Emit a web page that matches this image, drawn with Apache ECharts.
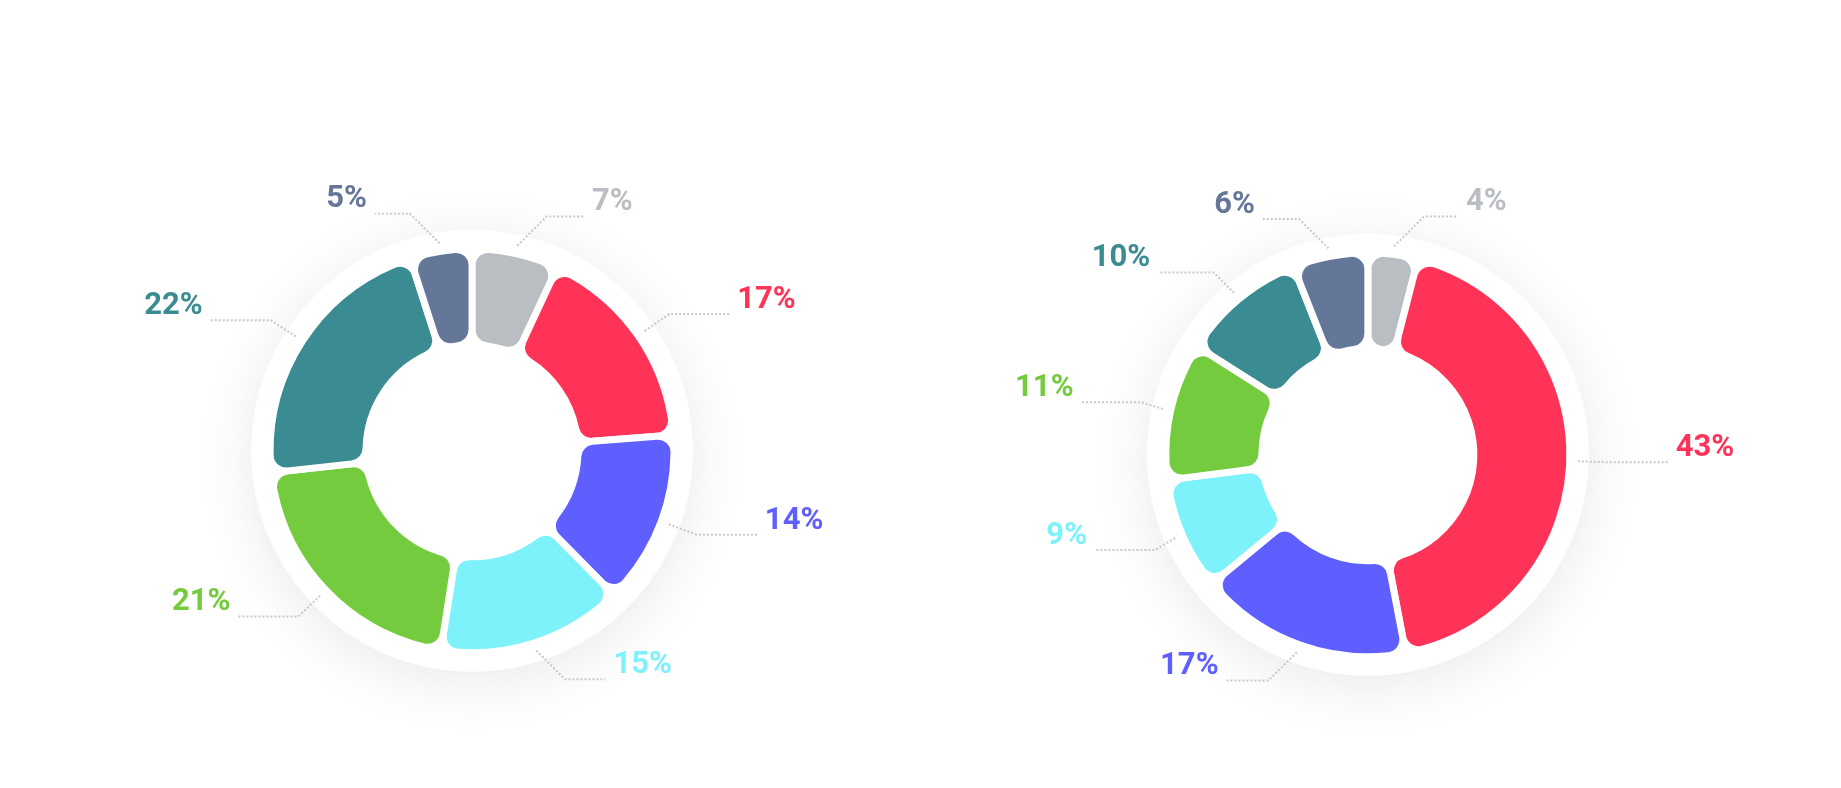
<!DOCTYPE html>
<html>
<head>
<meta charset="utf-8">
<script src="https://cdn.jsdelivr.net/npm/echarts@6/dist/echarts.min.js"></script>
<style>
  html, body { margin: 0; padding: 0; background: #fff; }
  #main { width: 1841px; height: 788px; }
</style>
</head>
<body>
<div id="main"></div>
<script>
// slice order, clockwise from 12 o'clock
var colors = ['#babec2', '#ff3358', '#5f5fff', '#7df2fa', '#74cb3e', '#3b8c92', '#657799'];
var leftValues = [7, 17, 14, 15, 21, 22, 5];
var rightValues = [4, 43, 17, 9, 11, 10, 6];

function donut(center, values) {
  // white disc behind the ring
  var disc = {
    type: 'pie', center: center, radius: [0, 221], silent: true, z: 1,
    label: { show: false }, labelLine: { show: false },
    itemStyle: { color: '#fff', shadowBlur: 60, shadowColor: 'rgba(0,0,0,0.09)', shadowOffsetY: 10 },
    data: [{ value: 1 }]
  };
  var ring = {
    type: 'pie', center: center, radius: [106, 202], startAngle: 90, z: 2,
    silent: true, label: { show: false }, labelLine: { show: false },
    itemStyle: { borderRadius: 16, borderWidth: 7, borderColor: '#fff' },
    data: values.map(function (v, i) {
      return { value: v, itemStyle: { color: colors[i] } };
    })
  };
  // invisible copy, a bit wider, only for the labels
  var labels = {
    type: 'pie', center: center, radius: [106, 210], startAngle: 90, z: 3,
    silent: true,
    itemStyle: { color: 'rgba(0,0,0,0)' },
    label: {
      formatter: function (p) { return '{v|' + p.value + '%}\n{s| }'; },
      distanceToLabelLine: 8,
      rich: {
        v: { fontFamily: 'Roboto', fontWeight: 'bold', fontSize: 31, lineHeight: 34 },
        s: { fontSize: 10, lineHeight: 28 }
      }
    },
    labelLine: {
      length: 30, length2: 60, minTurnAngle: 135,
      lineStyle: { color: '#c8c8c8', width: 2, type: [2, 2] }
    },
    data: values.map(function (v, i) {
      return { value: v, label: { color: colors[i] } };
    })
  };
  return [disc, ring, labels];
}

var chart = echarts.init(document.getElementById('main'));
chart.setOption({
  backgroundColor: '#fff',
  animation: false,
  series: donut(['25.64%', '57.2%'], leftValues).concat(donut(['74.3%', '57.7%'], rightValues))
});
</script>
</body>
</html>
